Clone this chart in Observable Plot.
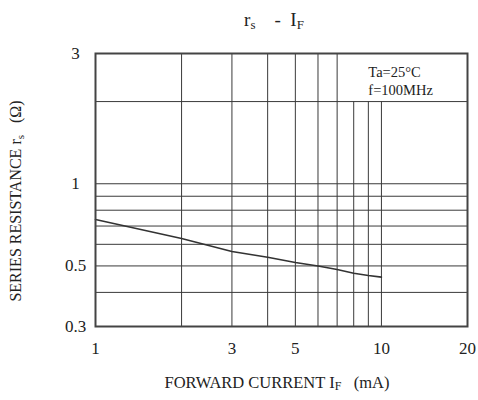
<!DOCTYPE html>
<html>
<head>
<meta charset="utf-8">
<script src="https://cdn.jsdelivr.net/npm/d3@7"></script>
<script src="https://cdn.jsdelivr.net/npm/@observablehq/plot@0.6"></script>
<style>
  html, body { margin: 0; padding: 0; background: #fff; }
  svg { font-family: "Liberation Serif", "DejaVu Serif", serif; }
  .pre { white-space: pre; }
</style>
</head>
<body>
<div id="chart"></div>
<script>
// Data
const forwardCurrent = [1, 2, 3, 4, 5, 6, 7, 8, 9, 10];            // mA
const seriesResistance = [0.74, 0.63, 0.565, 0.538, 0.515, 0.5, 0.485, 0.47, 0.461, 0.455]; // ohm

const xTicks = [1, 3, 5, 10, 20];
const yTicks = [0.3, 0.5, 1, 3];
const xGridFull = [2, 3, 4, 5, 6, 7];
const xGridShort = [8, 9, 10];
const yGrid = [0.4, 0.5, 0.6, 0.7, 0.8, 0.9, 1, 2];
const noteLines = ["Ta=25°C", "f=100MHz"];

const data = forwardCurrent.map((x, i) => ({x, y: seriesResistance[i]}));
const ink = "#3a3a3a";

const chart = Plot.plot({
  width: 478,
  height: 400,
  marginLeft: 95,
  marginRight: 11,
  marginTop: 53,
  marginBottom: 74,
  style: {fontFamily: "Liberation Serif, serif", fontSize: "17px", color: "#222", background: "#fff"},
  x: {type: "log", domain: [1, 20]},
  y: {type: "log", domain: [0.3, 3]},
  marks: [
    Plot.ruleX(xGridFull, {x: d => d, y1: 0.3, y2: 3, stroke: ink, strokeWidth: 1}),
    Plot.ruleX(xGridShort, {x: d => d, y1: 0.3, y2: 2, stroke: ink, strokeWidth: 1}),
    Plot.ruleY(yGrid, {y: d => d, x1: 1, x2: 20, stroke: ink, strokeWidth: 1}),
    Plot.line(data, {x: "x", y: "y", stroke: "#333", strokeWidth: 1.6}),
    Plot.frame({stroke: "#444", strokeWidth: 2}),
    Plot.axisX({ticks: xTicks, tickSize: 0, tickPadding: 15, tickFormat: d => String(d), fontSize: 17, label: null}),
    Plot.axisY({ticks: yTicks, tickSize: 0, tickPadding: 20, textAnchor: "middle", tickFormat: d => String(d), fontSize: 17, label: null}),
    Plot.text([noteLines.join("\n")], {x: 9, y: 2.4, text: d => d, textAnchor: "start", lineAnchor: "middle", lineHeight: 1.3, fontSize: 14.5, fill: "#222"})
  ]
});

const svg = d3.select(chart);

// Title: r_s - I_F
const title = svg.append("text")
  .attr("class", "pre")
  .attr("x", 274).attr("y", 26)
  .attr("text-anchor", "middle")
  .attr("font-size", 19)
  .attr("fill", "#222");
title.append("tspan").text("r");
title.append("tspan").attr("font-size", 13).attr("dy", 3).text("s");
title.append("tspan").attr("dy", -3).text("    -  I");
title.append("tspan").attr("font-size", 13).attr("dy", 3).text("F");

// X axis label
const xl = svg.append("text")
  .attr("class", "pre")
  .attr("x", 277).attr("y", 388)
  .attr("text-anchor", "middle")
  .attr("font-size", 16.5)
  .attr("fill", "#222");
xl.append("tspan").text("FORWARD CURRENT I");
xl.append("tspan").attr("font-size", 12).attr("dy", 2).text("F");
xl.append("tspan").attr("dy", -2).text("   (mA)");

// Y axis label
const yl = svg.append("text")
  .attr("class", "pre")
  .attr("transform", "translate(21,201) rotate(-90)")
  .attr("text-anchor", "middle")
  .attr("font-size", 16)
  .attr("fill", "#222");
yl.append("tspan").text("SERIES RESISTANCE r");
yl.append("tspan").attr("font-size", 11).attr("dy", 3).text("s");
yl.append("tspan").attr("dy", -3).text("   (Ω)");

document.getElementById("chart").appendChild(chart);
</script>
</body>
</html>
